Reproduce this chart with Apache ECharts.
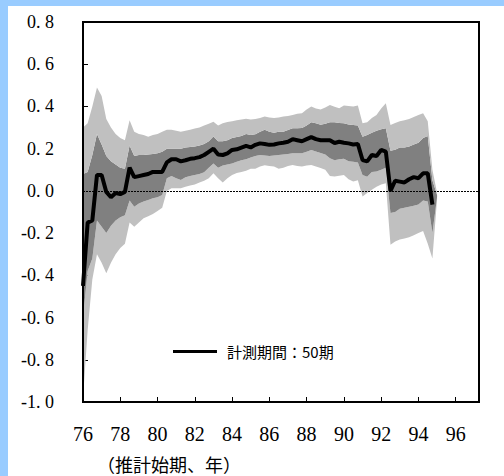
<!DOCTYPE html>
<html>
<head>
<meta charset="utf-8">
<script src="https://cdn.jsdelivr.net/npm/echarts@6/dist/echarts.min.js"></script>
<style>
  html, body { margin: 0; padding: 0; background: #99ccff; width: 504px; height: 476px; overflow: hidden; }
  #chart { position: absolute; left: 8px; top: 6px; width: 496px; height: 470px; background: #ffffff; }
</style>
</head>
<body>
<div id="chart"></div>
<script>
// Quarterly estimation start periods, 76Q1 .. 97Q2
const years = [76,77,78,79,80,81,82,83,84,85,86,87,88,89,90,91,92,93,94,95,96,97];
const quarterNames = ['Q1','Q2','Q3','Q4'];
const categories = [];
years.forEach(y => quarterNames.forEach(q => categories.push(y + q)));
categories.splice(86);

const seriesName = '計測期間：50期';
const axisTitle = '（推計始期、年）';

// Point estimate (black line)
const estimate = [
  -0.45,-0.15,-0.14,0.075,0.075,-0.005,-0.03,-0.01,-0.015,-0.005,
  0.11,0.065,0.07,0.075,0.08,0.09,0.09,0.09,0.135,0.15,
  0.15,0.14,0.145,0.152,0.155,0.16,0.17,0.185,0.2,0.172,
  0.17,0.178,0.194,0.197,0.205,0.213,0.206,0.218,0.225,0.222,
  0.218,0.22,0.225,0.228,0.233,0.245,0.24,0.235,0.245,0.255,
  0.245,0.24,0.24,0.24,0.227,0.233,0.228,0.225,0.22,0.222,
  0.146,0.14,0.17,0.165,0.194,0.186,0.0,0.048,0.044,0.04,
  0.055,0.065,0.06,0.083,0.083,-0.065
];
// Outer (light grey) band upper / lower
const outerUpper = [
  0.30,0.32,0.40,0.49,0.45,0.34,0.30,0.27,0.25,0.24,
  0.335,0.28,0.27,0.265,0.257,0.265,0.27,0.28,0.29,0.29,
  0.285,0.28,0.285,0.29,0.295,0.30,0.31,0.318,0.328,0.31,
  0.32,0.326,0.33,0.335,0.338,0.342,0.338,0.34,0.345,0.352,
  0.348,0.345,0.348,0.352,0.355,0.36,0.365,0.368,0.385,0.40,
  0.39,0.385,0.395,0.407,0.398,0.392,0.405,0.402,0.40,0.405,
  0.32,0.325,0.345,0.36,0.39,0.415,0.312,0.322,0.33,0.335,
  0.34,0.35,0.36,0.368,0.33,0.10,-0.01
];
const outerLower = [
  -0.98,-0.66,-0.42,-0.30,-0.34,-0.39,-0.34,-0.30,-0.27,-0.25,
  -0.15,-0.17,-0.15,-0.13,-0.12,-0.11,-0.095,-0.08,0.0,0.012,
  0.012,0.012,0.02,0.025,0.03,0.04,0.048,0.06,0.083,0.06,
  0.04,0.06,0.075,0.085,0.09,0.095,0.105,0.105,0.115,0.122,
  0.118,0.115,0.105,0.11,0.118,0.123,0.118,0.115,0.12,0.123,
  0.115,0.108,0.10,0.07,0.068,0.072,0.075,0.055,0.045,0.05,
  -0.027,-0.01,0.005,0.02,0.03,0.036,-0.255,-0.24,-0.23,-0.225,
  -0.22,-0.21,-0.20,-0.19,-0.25,-0.32,-0.04
];
// Inner (dark grey) band upper / lower
const innerUpper = [
  0.08,0.09,0.17,0.27,0.22,0.165,0.14,0.125,0.11,0.105,
  0.215,0.165,0.17,0.17,0.172,0.175,0.178,0.185,0.20,0.20,
  0.20,0.20,0.205,0.208,0.21,0.215,0.222,0.235,0.258,0.235,
  0.235,0.24,0.25,0.255,0.26,0.27,0.265,0.268,0.28,0.29,
  0.28,0.275,0.28,0.28,0.288,0.297,0.297,0.298,0.31,0.325,
  0.32,0.313,0.318,0.325,0.325,0.322,0.32,0.315,0.312,0.31,
  0.257,0.265,0.275,0.285,0.292,0.297,0.19,0.195,0.205,0.205,
  0.21,0.22,0.228,0.25,0.26,0.05,-0.02
];
const innerLower = [
  -0.60,-0.38,-0.32,-0.14,-0.17,-0.20,-0.165,-0.14,-0.125,-0.115,
  -0.045,-0.075,-0.06,-0.05,-0.043,-0.035,-0.03,-0.02,0.06,0.07,
  0.06,0.052,0.065,0.07,0.075,0.08,0.088,0.11,0.13,0.11,
  0.12,0.125,0.13,0.138,0.145,0.15,0.158,0.165,0.17,0.168,
  0.165,0.168,0.17,0.172,0.175,0.178,0.178,0.178,0.185,0.194,
  0.186,0.18,0.172,0.155,0.145,0.15,0.152,0.14,0.138,0.135,
  0.075,0.067,0.09,0.092,0.10,0.11,-0.105,-0.10,-0.085,-0.08,
  -0.075,-0.07,-0.065,-0.045,-0.05,-0.20,-0.03
];

const yMin = -1.0, yMax = 0.8, yStep = 0.2;

const diff = (a, b) => a.map((v, i) => +(v - b[i]).toFixed(4));
const bandLight1 = diff(innerLower, outerLower);
const bandDark = diff(innerUpper, innerLower);
const bandLight2 = diff(outerUpper, innerUpper);

const LIGHT = '#c0c0c0';
const DARK = '#808080';
const serif = '"Liberation Serif", "DejaVu Serif", serif';
const cjk = '"Noto Sans CJK JP", sans-serif';
const showEvery8 = (idx) => idx % 8 === 0;

const bandBase = {
  type: 'line', stack: 'band', stackStrategy: 'all', symbol: 'none',
  lineStyle: { width: 0, opacity: 0 }, silent: true, z: 1
};

const chart = echarts.init(document.getElementById('chart'), null, { renderer: 'svg' });
chart.setOption({
  animation: false,
  grid: { left: 75, top: 16, width: 396, height: 380, show: true, borderColor: '#000000', borderWidth: 2, backgroundColor: 'rgba(0,0,0,0)', z: 10 },
  legend: {
    data: [{ name: seriesName, icon: 'rect' }],
    left: 160, top: 333, itemWidth: 44, itemHeight: 3,
    textStyle: { fontFamily: cjk, fontSize: 15, color: '#000', padding: [0, 0, 0, 5] },
    selectedMode: false
  },
  xAxis: {
    type: 'category', data: categories, boundaryGap: false,
    axisLine: { show: true, onZero: false, lineStyle: { color: '#000000', width: 2 } },
    axisTick: { inside: true, length: 5, interval: showEvery8, lineStyle: { color: '#000' } },
    axisLabel: {
      interval: showEvery8, margin: 22, color: '#000', fontFamily: serif, fontSize: 20,
      formatter: v => v.slice(0, 2)
    },
    splitLine: { show: false }
  },
  yAxis: {
    type: 'value', min: yMin, max: yMax, interval: yStep,
    axisLine: { show: true, lineStyle: { color: '#000000', width: 2 } },
    axisTick: { show: true, inside: true, length: 5, lineStyle: { color: '#000' } },
    axisLabel: {
      margin: 29, color: '#000', fontFamily: serif, fontSize: 18,
      formatter: v => v.toFixed(1).replace('.', '. ')
    },
    splitLine: { show: false }
  },
  graphic: [{
    type: 'text', left: 89, top: 449,
    style: { text: axisTitle, fontFamily: cjk, fontSize: 18, fill: '#000' }
  }],
  series: [
    Object.assign({}, bandBase, { name: 'base', data: outerLower }),
    Object.assign({}, bandBase, { name: 'light1', data: bandLight1, areaStyle: { color: LIGHT, opacity: 1 } }),
    Object.assign({}, bandBase, { name: 'dark', data: bandDark, areaStyle: { color: DARK, opacity: 1 } }),
    Object.assign({}, bandBase, { name: 'light2', data: bandLight2, areaStyle: { color: LIGHT, opacity: 1 } }),
    {
      name: seriesName, type: 'line', data: estimate, symbol: 'none', z: 5,
      lineStyle: { color: '#000', width: 4 }, itemStyle: { color: '#000' },
      markLine: {
        silent: true, symbol: ['none', 'none'], label: { show: false },
        lineStyle: { color: '#000', width: 1, type: [2, 1] },
        data: [{ yAxis: 0 }]
      }
    }
  ]
});
</script>
</body>
</html>
